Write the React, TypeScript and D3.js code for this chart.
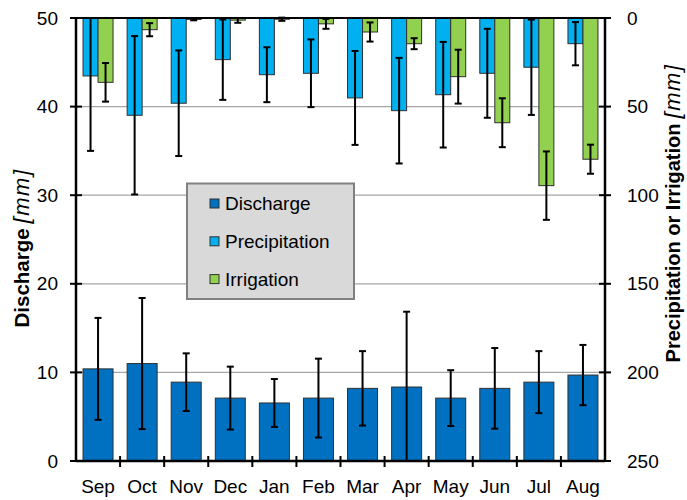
import React from "react";
import * as d3 from "d3";

const months = ["Sep", "Oct", "Nov", "Dec", "Jan", "Feb", "Mar", "Apr", "May", "Jun", "Jul", "Aug"];
const discharge = [10.4, 11.0, 8.9, 7.1, 6.55, 7.1, 8.2, 8.35, 7.1, 8.2, 8.9, 9.7];
const dischargeErr = [5.75, 7.4, 3.25, 3.55, 2.7, 4.45, 4.2, 8.5, 3.15, 4.55, 3.5, 3.4];
const precipitation = [32.7, 54.9, 48.1, 23.5, 32.0, 31.2, 45.1, 52.3, 43.3, 31.2, 27.8, 14.5];
const precipitationErr = [42.3, 44.7, 29.8, 22.7, 15.5, 19.1, 26.5, 29.8, 29.8, 25.1, 26.9, 12.2];
const irrigation = [36.3, 6.6, 0.8, 1.2, 0.7, 3.3, 7.9, 14.5, 33.1, 59.1, 94.6, 79.7];
const irrigationErr = [10.9, 3.7, 0.5, 1.5, 0.9, 2.8, 5.4, 3.1, 15.2, 13.8, 19.3, 8.2];
const leftTicks = [0, 10, 20, 30, 40, 50];
const rightTicks = [0, 50, 100, 150, 200, 250];
const legendItems = ["Discharge", "Precipitation", "Irrigation"];

const C_DIS = "#0070C0";
const C_PRE = "#00B0F0";
const C_IRR = "#92D050";
const FONT = "'Liberation Sans', Arial, sans-serif";

export default function App() {
  const W = 687, H = 500;
  const L = 76, R = 605, T = 18, B = 461;
  const x = d3.scaleBand<string>().domain(months).range([L, R]).padding(0);
  const yL = d3.scaleLinear().domain([0, 50]).range([B, T]);
  const yR = d3.scaleLinear().domain([0, 250]).range([T, B]);
  const bw = 30;
  const half = 15;
  const cap = 3.5;
  const colors = [C_DIS, C_PRE, C_IRR];

  const errBar = (cx: number, lo: number, hi: number, key: string) => {
    const top = Math.max(Math.min(lo, hi), T);
    const bot = Math.min(Math.max(lo, hi), B);
    const loIn = Math.min(lo, hi) >= T - 0.5;
    const hiIn = Math.max(lo, hi) <= B + 0.5;
    return (
      <g key={key} stroke="#000" strokeWidth={2}>
        <line x1={cx} x2={cx} y1={top} y2={bot} />
        {loIn && <line x1={cx - cap} x2={cx + cap} y1={Math.min(lo, hi)} y2={Math.min(lo, hi)} />}
        {hiIn && <line x1={cx - cap} x2={cx + cap} y1={Math.max(lo, hi)} y2={Math.max(lo, hi)} />}
      </g>
    );
  };

  return (
    <svg width={W} height={H} style={{ position: "absolute", left: 0, top: 0 }} fontFamily={FONT}>
      <rect width={W} height={H} fill="#fff" />
      {/* gridlines */}
      {leftTicks.filter((t) => t > 0 && t < 50).map((t) => (
        <line key={"g" + t} x1={L} x2={R} y1={yL(t)} y2={yL(t)} stroke="#a6a6a6" strokeWidth={1.2} />
      ))}
      {/* discharge bars */}
      {months.map((m, i) => {
        const cx = x(m)! + x.bandwidth() / 2;
        return (
          <rect key={"d" + m} x={cx - bw / 2} y={yL(discharge[i])} width={bw} height={B - yL(discharge[i])}
            fill={C_DIS} stroke="#303030" strokeWidth={1} />
        );
      })}
      {/* precipitation and irrigation bars */}
      {months.map((m, i) => {
        const cx = x(m)! + x.bandwidth() / 2;
        return (
          <g key={"pi" + m}>
            <rect x={cx - half} y={T} width={half} height={yR(precipitation[i]) - T} fill={C_PRE} stroke="#303030" strokeWidth={1} />
            <rect x={cx} y={T} width={half} height={yR(irrigation[i]) - T} fill={C_IRR} stroke="#303030" strokeWidth={1} />
          </g>
        );
      })}
      {/* error bars */}
      {months.map((m, i) => {
        const cx = x(m)! + x.bandwidth() / 2;
        return (
          <g key={"e" + m}>
            {errBar(cx, yL(discharge[i] + dischargeErr[i]), yL(discharge[i] - dischargeErr[i]), "ed")}
            {errBar(cx - half / 2, yR(precipitation[i] - precipitationErr[i]), yR(precipitation[i] + precipitationErr[i]), "ep")}
            {errBar(cx + half / 2, yR(irrigation[i] - irrigationErr[i]), yR(irrigation[i] + irrigationErr[i]), "ei")}
          </g>
        );
      })}
      {/* axes */}
      <line x1={L} x2={R} y1={T} y2={T} stroke="#000" strokeWidth={2} />
      <line x1={L} x2={R} y1={B} y2={B} stroke="#000" strokeWidth={2.5} />
      <line x1={L} x2={L} y1={T} y2={B} stroke="#000" strokeWidth={2.5} />
      <line x1={R} x2={R} y1={T} y2={B} stroke="#000" strokeWidth={2.5} />
      {leftTicks.map((t) => (
        <g key={"lt" + t}>
          <line x1={L - 6} x2={L + 6} y1={yL(t)} y2={yL(t)} stroke="#000" strokeWidth={2} />
          <text x={58} y={yL(t)} textAnchor="end" dominantBaseline="central" fontSize={19} fill="#000">{t}</text>
        </g>
      ))}
      {rightTicks.map((t) => (
        <g key={"rt" + t}>
          <line x1={R - 6} x2={R + 6} y1={yR(t)} y2={yR(t)} stroke="#000" strokeWidth={2} />
          <text x={627} y={yR(t)} textAnchor="start" dominantBaseline="central" fontSize={19} fill="#000">{t}</text>
        </g>
      ))}
      {months.map((m, i) => (
        <g key={"xt" + m}>
          {i > 0 && <line x1={x(m)!} x2={x(m)!} y1={B - 5} y2={B + 6} stroke="#000" strokeWidth={2} />}
          <text x={x(m)! + x.bandwidth() / 2} y={486} textAnchor="middle" dominantBaseline="central" fontSize={19} fill="#000">{m}</text>
        </g>
      ))}
      {/* axis titles */}
      <text transform={`translate(29,${248}) rotate(-90)`} textAnchor="middle" fontSize={20.5} fill="#000">
        <tspan fontWeight="bold">Discharge</tspan>
        <tspan fontStyle="italic" dx={5} fontSize={22} letterSpacing={1.5}>[mm]</tspan>
      </text>
      <text transform={`translate(680,${213}) rotate(-90)`} textAnchor="middle" fontSize={20} fill="#000">
        <tspan fontWeight="bold">Precipitation or Irrigation</tspan>
        <tspan fontStyle="italic" dx={5} fontSize={22} letterSpacing={1.5}>[mm]</tspan>
      </text>
      {/* legend */}
      <rect x={187} y={183.5} width={167} height={115.5} fill="#d9d9d9" stroke="#808080" strokeWidth={2} />
      {legendItems.map((s, i) => {
        const cy = 203.5 + i * 37.8;
        return (
          <g key={"lg" + s}>
            <rect x={210} y={cy - 4.5} width={9} height={9} fill={colors[i]} stroke="#303030" strokeWidth={1} />
            <text x={225} y={cy} dominantBaseline="central" fontSize={19} fill="#000">{s}</text>
          </g>
        );
      })}
    </svg>
  );
}
